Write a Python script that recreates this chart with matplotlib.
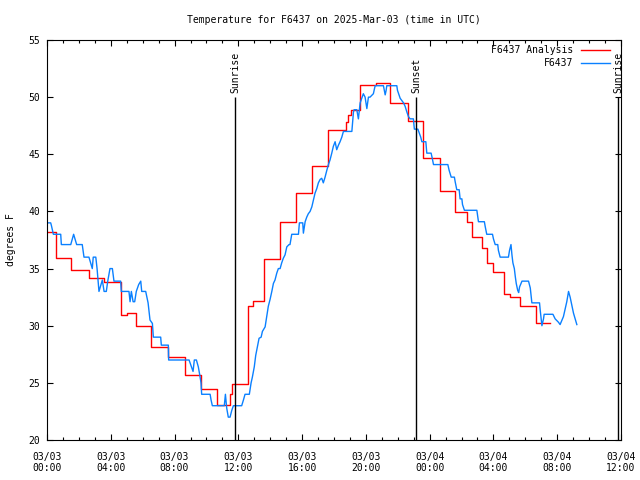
import datetime as dt

import matplotlib
matplotlib.use("Agg")
from matplotlib import pyplot as plt
from matplotlib.ticker import FixedLocator, MultipleLocator

# hours since 2025-03-03 00:00 UTC
obs_hours = [0.0, 0.23, 0.27, 0.40, 0.86, 0.90, 1.49, 1.67, 1.86, 2.21, 2.32, 2.63,
             2.84, 2.90, 3.06, 3.14, 3.26, 3.47, 3.58, 3.72, 3.81, 3.95, 4.10, 4.20,
             4.62, 4.66, 5.14, 5.21, 5.29, 5.40, 5.50, 5.60, 5.75, 5.88, 5.94, 6.19,
             6.34, 6.46, 6.61, 6.67, 7.13, 7.17, 7.61, 7.63, 8.91, 9.16, 9.24, 9.37,
             9.49, 9.58, 9.66, 9.70, 10.23, 10.29, 10.37, 11.12, 11.19, 11.27, 11.37,
             11.48, 11.59, 11.69, 12.21, 12.32, 12.42, 12.69, 12.80, 12.88, 13.00,
             13.09, 13.22, 13.30, 13.43, 13.51, 13.68, 13.78, 13.88, 13.99, 14.10,
             14.20, 14.30, 14.41, 14.51, 14.62, 14.72, 14.82, 14.93, 15.04, 15.18,
             15.24, 15.35, 15.77, 15.83, 16.04, 16.08, 16.19, 16.29, 16.39, 16.50,
             16.61, 16.71, 16.81, 16.92, 17.02, 17.13, 17.23, 17.33, 17.44, 17.55,
             17.65, 17.75, 17.86, 17.96, 18.07, 18.17, 18.28, 18.38, 18.49, 18.59,
             19.12, 19.22, 19.26, 19.43, 19.53, 19.64, 19.74, 19.84, 19.95, 20.06,
             20.16, 20.26, 20.47, 20.58, 21.10, 21.21, 21.27, 21.31, 21.94, 21.98,
             22.15, 22.36, 22.46, 22.57, 22.67, 22.77, 22.98, 23.04, 23.26, 23.34,
             23.44, 23.51, 23.76, 23.82, 24.09, 24.17, 24.24, 25.14, 25.22, 25.35,
             25.55, 25.60, 25.70, 25.85, 25.91, 26.02, 26.06, 26.18, 26.96, 27.06,
             27.43, 27.48, 27.58, 27.94, 28.00, 28.11, 28.27, 28.31, 28.42, 28.94,
             29.01, 29.10, 29.16, 29.22, 29.31, 29.37, 29.43, 29.52, 29.58, 29.64,
             29.79, 30.20, 30.31, 30.41, 30.89, 30.93, 31.04, 31.14, 31.18, 31.73,
             31.87, 32.08, 32.18, 32.39, 32.60, 32.71, 32.81, 33.02, 33.23]
obs_temps = [39.0, 39.0, 38.8, 38.0, 38.0, 37.1, 37.1, 38.0, 37.1, 37.1, 36.0, 36.0,
             35.0, 36.0, 36.0, 35.0, 33.0, 34.0, 33.0, 33.0, 33.9, 35.0, 35.0, 33.9,
             33.9, 33.0, 33.0, 32.1, 33.0, 32.1, 32.1, 33.0, 33.6, 33.9, 33.0, 33.0,
             32.0, 30.5, 30.2, 29.0, 29.0, 28.3, 28.3, 27.0, 27.0, 26.0, 27.0, 27.0,
             26.4, 25.7, 25.0, 24.0, 24.0, 23.5, 23.0, 23.0, 24.0, 22.8, 22.0,
             22.0, 22.6, 23.0, 23.0, 23.5, 24.0, 24.0, 25.0, 25.5, 26.4,
             27.4, 28.3, 28.9, 29.0, 29.5, 29.9, 30.8, 31.7, 32.3, 33.0,
             33.7, 34.0, 34.6, 35.0, 35.0, 35.5, 35.9, 36.2, 36.9, 37.1,
             37.1, 38.0, 38.0, 39.0, 39.0, 38.1, 39.1, 39.5, 39.8, 40.0,
             40.4, 41.0, 41.6, 42.0, 42.5, 42.8, 42.9, 42.5, 43.0, 43.6,
             44.1, 44.5, 45.1, 45.7, 46.1, 45.4, 45.8, 46.1, 46.5, 47.0,
             47.0, 48.7, 48.9, 48.9, 48.1, 49.5, 49.9, 50.3, 50.0, 49.0,
             50.0, 50.0, 50.3, 51.0, 51.0, 50.2, 50.6, 51.0, 51.0, 50.6,
             49.9, 49.5, 49.2, 48.7, 48.3, 48.1, 48.1, 47.2, 47.2, 46.9,
             46.5, 46.1, 46.1, 45.1, 45.1, 44.6, 44.1, 44.1, 43.6, 43.0,
             43.0, 42.6, 41.9, 41.9, 41.1, 41.1, 40.6, 40.1, 40.1, 39.1,
             39.1, 38.7, 38.0, 38.0, 37.6, 37.1, 37.1, 36.6, 36.0, 36.0,
             36.6, 37.1, 36.2, 35.5, 35.0, 34.3, 33.7, 33.1, 32.9, 33.4,
             33.9, 33.9, 33.3, 32.0, 32.0, 31.4, 30.0, 30.6, 31.0, 31.0,
             30.6, 30.3, 30.1, 30.8, 32.1, 33.0, 32.5, 31.1, 30.1]

ana_hours = [0.0, 0.55, 1.52, 2.63, 3.58, 4.62, 5.0, 5.60, 6.54, 7.61, 8.66, 9.64,
             10.65, 11.45, 11.58, 12.63, 12.94, 13.61, 14.62, 15.62, 16.61, 17.63,
             18.75, 18.90, 19.05, 19.64, 20.64, 21.52, 22.67, 23.61, 24.65, 25.60,
             26.35, 26.66, 27.31, 27.60, 28.00, 28.67, 29.05, 29.67, 30.66, 31.56]
ana_temps = [38.2, 35.9, 34.85, 34.2, 33.8, 30.9, 31.1, 30.0, 28.1, 27.3, 25.66, 24.43,
             23.1, 24.0, 24.87, 31.75, 32.2, 35.8, 39.05, 41.6, 43.97, 47.1,
             47.8, 48.4, 48.85, 51.03, 51.26, 49.46, 47.9, 44.65, 41.8, 39.97,
             39.1, 37.8, 36.8, 35.5, 34.67, 32.75, 32.55, 31.72, 30.2, 30.2]

sunrise_hours = [11.8, 35.83]
sunset_hours = [23.15]

start = dt.datetime(2025, 3, 3)
tick_hours = list(range(0, 37, 4))
tick_labels = [(start + dt.timedelta(hours=h)).strftime("%m/%d\n%H:%M") for h in tick_hours]

plt.rcParams["font.family"] = ["DejaVu Sans Mono"]
plt.rcParams["font.size"] = 7

fig = plt.figure(figsize=(6.4, 4.8), dpi=100)
ax = fig.add_axes([47 / 640, 40 / 480, 574 / 640, 400 / 480])

ax.plot(ana_hours, ana_temps, color="#ff0000", lw=1.0, drawstyle="steps-post",
        label="F6437 Analysis")
ax.plot(obs_hours, obs_temps, color="#0a80ff", lw=1.0, label="F6437")

ax.vlines(sunrise_hours + sunset_hours, 20, 50, color="black", lw=1.0)
for h in sunrise_hours:
    ax.text(h, 50.4, "Sunrise", rotation=90, ha="center", va="bottom")
for h in sunset_hours:
    ax.text(h, 50.4, "Sunset", rotation=90, ha="center", va="bottom")

ax.set_xlim(0, 36)
ax.set_ylim(20, 55)
ax.xaxis.set_major_locator(FixedLocator(tick_hours))
ax.set_xticklabels(tick_labels)
ax.xaxis.set_minor_locator(MultipleLocator(1))
ax.yaxis.set_major_locator(MultipleLocator(5))
ax.tick_params(which="both", direction="in", top=True, right=True, width=0.8)
ax.tick_params(which="major", length=4)
ax.tick_params(which="minor", length=2.5)
ax.tick_params(axis="x", pad=8.5)
ax.tick_params(axis="y", pad=5)
for s in ax.spines.values():
    s.set_linewidth(0.8)

ax.set_ylabel("degrees F", fontsize=7, labelpad=9)
ax.set_title("Temperature for F6437 on 2025-Mar-03 (time in UTC)", fontsize=7, pad=12)
ax.legend(loc="upper right", bbox_to_anchor=(1 - 11 / 574, 1 - 5 / 400), fontsize=7,
          frameon=False, markerfirst=False, handlelength=3.0, labelspacing=0.3,
          borderaxespad=0, borderpad=0, handletextpad=0.8)

fig.savefig("out.png", dpi=100)
